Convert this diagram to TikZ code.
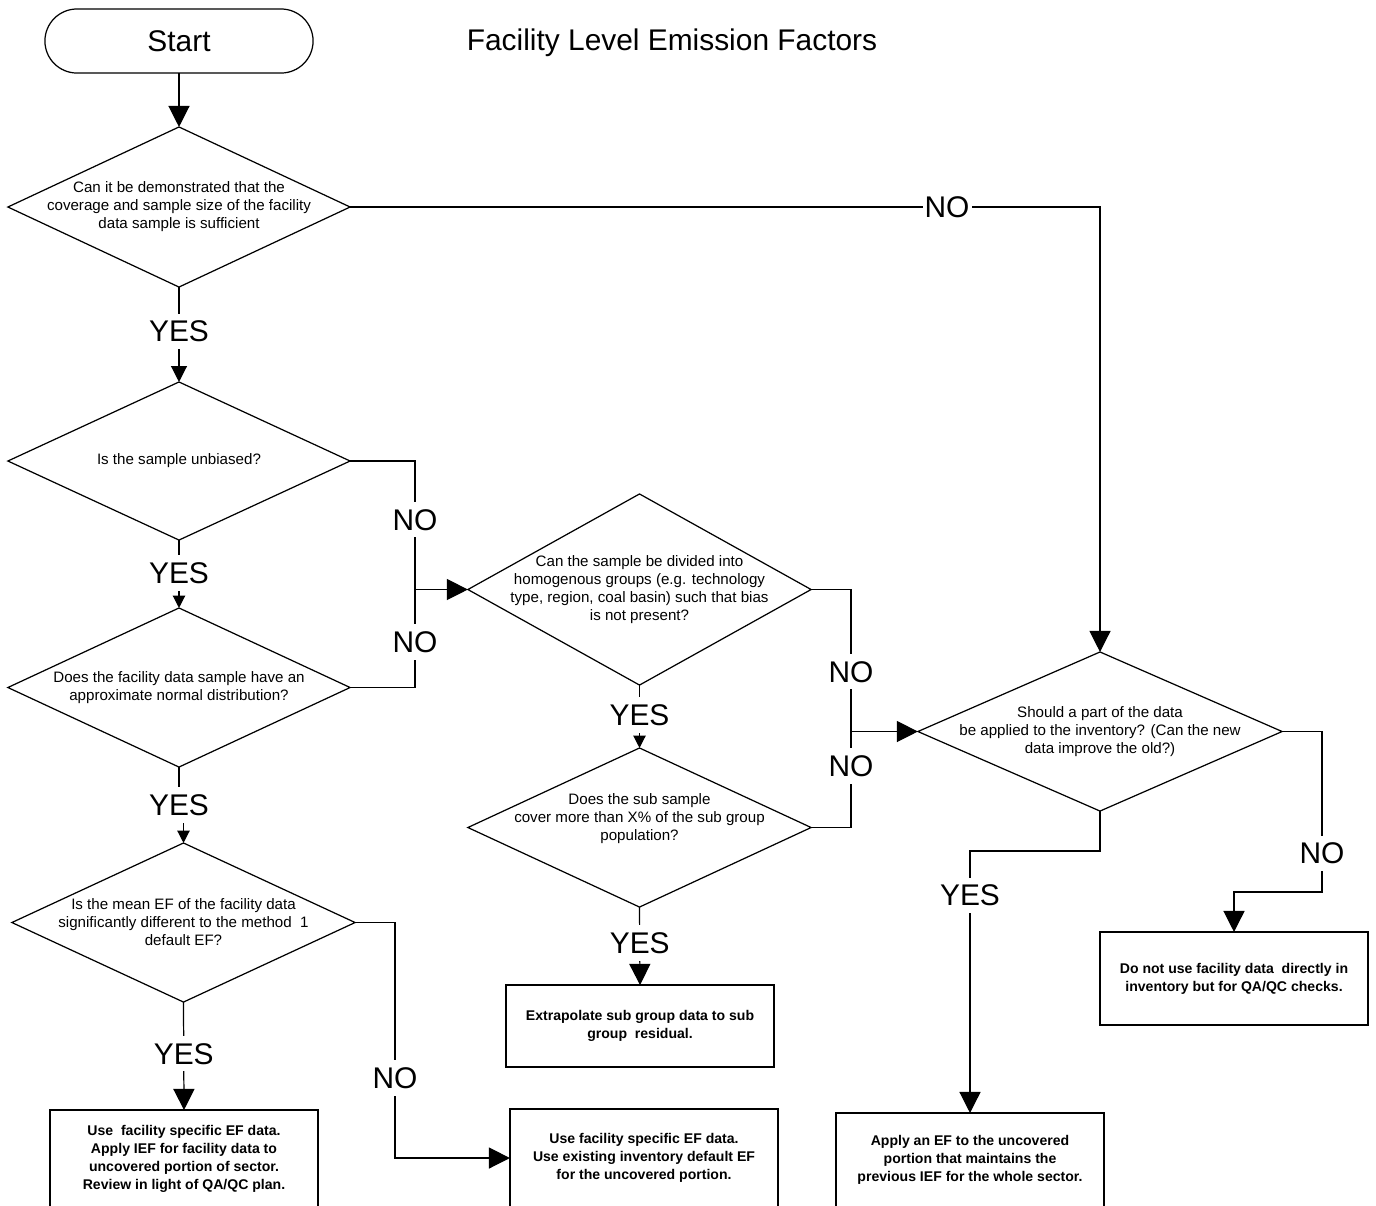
\documentclass[tikz,border=0pt]{standalone}
\usepackage{fontspec}
\setmainfont{Liberation Sans}
\usetikzlibrary{shapes.geometric,arrows.meta}
\newcommand\bigtxt{\fontsize{8.5}{10}\selectfont}
\newcommand\qtxt{\fontsize{4.3}{5.12}\selectfont}
\newcommand\btxt{\fontsize{4.0}{5.12}\selectfont\bfseries}

\begin{document}
\begin{tikzpicture}[x=0.01cm,y=-0.01cm,
  flow/.style={line width=0.35pt},
  arr/.style={flow,-{Triangle[length=6pt,width=6pt]}},
  arrm/.style={flow,-{Triangle[length=4.5pt,width=4.5pt]}},
  arrs/.style={flow,-{Triangle[length=3.5pt,width=3.5pt]}},
  dec/.style args={#1x#2}{diamond,draw,line width=0.35pt,inner sep=0pt,outer sep=0pt,
    minimum width=#1cm,minimum height=#2cm},
  q/.style={font=\qtxt,align=center,inner sep=0pt},
  act/.style={draw,line width=0.35pt,rectangle,minimum width=2.68cm,inner sep=0pt,
    outer sep=0pt,align=center,font=\btxt},
  lbl/.style={fill=white,font=\bigtxt,inner xsep=0.6pt,inner ysep=2pt},
]
\useasboundingbox (0,0) rectangle (1376,1205);

% terminal and heading
\node[draw,line width=0.35pt,rounded corners=0.32cm,minimum width=2.68cm,
  minimum height=0.64cm,inner sep=0pt,outer sep=0pt,font=\bigtxt] (start) at (179,41) {Start};
\node[font=\bigtxt] (title) at (672,42.5) {Facility Level Emission Factors};

% decisions
\node[dec=3.42x1.60,label={[q]center:{Can it be demonstrated that the\\coverage and sample size of the facility\\data sample is sufficient}}] (d1) at (179,207) {};
\node[dec=3.42x1.58,label={[q]center:{Is the sample unbiased?}}] (d2) at (179,461) {};
\node[dec=3.42x1.59,label={[q]center:{Does the facility data sample have an\\approximate normal distribution?}}] (d4) at (179,687.5) {};
\node[dec=3.43x1.59,label={[q]center:{Is the mean EF of the facility data\\significantly different to the method\ \ 1\\default EF?}}] (d5) at (183.5,922.5) {};
\node[dec=3.43x1.91,label={[q]center:{Can the sample be divided into\\homogenous groups (e.g. technology\\type, region, coal basin) such that bias\\is not present?}}] (d3) at (639.5,589.5) {};
\node[dec=3.43x1.59,label={[q,yshift=0.09cm]center:{Does the sub sample\\cover more than X\% of the sub group\\population?}}] (d7) at (639.5,827.5) {};
\node[dec=3.64x1.59,label={[q]center:{Should a part of the data\\be applied to the inventory? (Can the new\\data improve the old?)}}] (d6) at (1100,731.5) {};

% outcomes
\node[act,minimum height=0.97cm] (b1) at (184,1158.5) {Use\ \ facility specific EF data.\\Apply IEF for facility data to\\uncovered portion of sector.\\Review in light of QA/QC plan.};
\node[act,minimum height=0.98cm] (b2) at (644,1158) {Use facility specific EF data.\\Use existing inventory default EF\\for the uncovered portion.};
\node[act,minimum height=0.82cm] (b3) at (640,1026) {Extrapolate sub group data to sub\\group\ \ residual.};
\node[act,minimum height=0.94cm] (b4) at (970,1160) {Apply an EF to the uncovered\\portion that maintains the\\previous IEF for the whole sector.};
\node[act,minimum height=0.93cm] (b5) at (1234,978.5) {Do not use facility data\ \ directly in\\inventory but for QA/QC checks.};

% junctions
\coordinate (j1) at (415,589.5);
\coordinate (j2) at (851,731.5);
\coordinate (j3) at (395,1158);
\coordinate (j4) at (970,851);
\coordinate (j5) at (1322,892);

% connectors
\draw[arr] (start) -- (d1.north);
\draw[arr] (d1.east) -- node[lbl,pos=0.796]{NO} (d1.east -| d6.north) -- (d6.north);
\draw[arrm] (d1.south) -- node[lbl,pos=0.47]{YES} (d2.north);
\draw[arrs] (d2.south) -- node[lbl,pos=0.485]{YES} (d4.north);

\draw[flow] (d2.east) -- (d2.east -| j1) -- node[lbl,pos=0.457]{NO} (j1);
\draw[flow] (d4.east) -- (d4.east -| j1) -- node[lbl,pos=0.464]{NO} (j1);
\draw[arr] (j1) -- (d3.west);

\node[lbl] (y3) at (179,805) {YES};
\draw[flow] (d4.south) -- (d4.south |- y3.north);
\draw[arrs] (d5.north |- y3.south) -- (d5.north);

\draw[arr] (d5.south) -- node[lbl,pos=0.48]{YES} (b1.north);
\draw[arr] (d5.east) -- (d5.east -| j3) -- node[lbl,pos=0.66]{NO} (j3) -- (b2.west);

\draw[arrs] (d3.south) -- node[lbl,pos=0.476]{YES} (d7.north);
\draw[arr] (d7.south) -- node[lbl,pos=0.46]{YES} (b3.north);
\draw[flow] (d3.east) -- (d3.east -| j2) -- node[lbl,pos=0.58]{NO} (j2);
\draw[flow] (d7.east) -- (d7.east -| j2) -- node[lbl,pos=0.64]{NO} (j2);
\draw[arr] (j2) -- (d6.west);

\draw[arr] (d6.south) |- (j4) -- node[lbl,pos=0.17]{YES} (b4.north);
\draw[arr] (d6.east) -- (d6.east -| j5) -- node[lbl,pos=0.76]{NO} (j5) -| (b5.north);
\end{tikzpicture}
\end{document}
